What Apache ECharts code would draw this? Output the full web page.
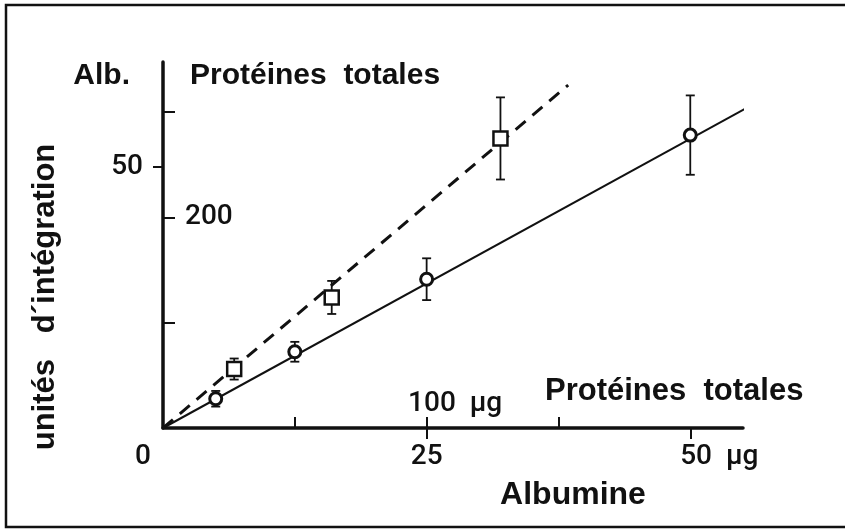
<!DOCTYPE html>
<html>
<head>
<meta charset="utf-8">
<script src="https://cdn.jsdelivr.net/npm/echarts@6/dist/echarts.min.js"></script>
<style>
  html, body { margin: 0; padding: 0; background: #fff; }
  #main { width: 845px; height: 530px; }
</style>
</head>
<body>
<div id="main"></div>
<script>
// albumine (circles, solid line) - bottom / left scales
const albX = [5, 12.5, 25, 50];
const albY = [5.6, 14.6, 28.5, 56.1];
const albErr = [1.5, 1.9, 4.0, 7.6];
const albFit = [[0, 0], [55.7, 61.7]];

// protéines totales (squares, dashed line) - inner scales
const protX = [27, 64, 128];
const protY = [56, 124, 275];
const protErr = [10, 15.7, 39];
const protFit = [[0, 0], [153.7, 325.7]];

// tick positions
const albXTicks = [25, 50];
const albYTicks = [50];
const protXTicks = [50, 100, 150];
const protYTicks = [100, 200, 300];

const FONT = "'Liberation Sans', Arial, Helvetica, sans-serif";
const NUM = { fontFamily: "Roboto, 'Liberation Sans', Arial, sans-serif", fontWeight: 500, fontSize: 28, color: '#111' };

const myChart = echarts.init(document.getElementById('main'));

const errorBars = (params, api) => {
  const x = api.value(0), y = api.value(1), e = api.value(2);
  const top = api.coord([x, y + e]);
  const bot = api.coord([x, y - e]);
  const s = { stroke: '#111', lineWidth: 1.8 };
  return {
    type: 'group',
    children: [
      { type: 'line', shape: { x1: top[0], y1: top[1], x2: bot[0], y2: bot[1] }, style: s },
      { type: 'line', shape: { x1: top[0] - 4.5, y1: top[1], x2: top[0] + 4.5, y2: top[1] }, style: s },
      { type: 'line', shape: { x1: bot[0] - 4.5, y1: bot[1], x2: bot[0] + 4.5, y2: bot[1] }, style: s },
    ],
  };
};

const gridBox = { left: 163, top: 62, width: 580, height: 366, outerBoundsMode: 'none' };

const option = {
  backgroundColor: '#fff',
  animation: false,
  grid: [gridBox, Object.assign({}, gridBox)],
  xAxis: [
    {
      type: 'value', gridIndex: 0, min: 0, max: 55, position: 'bottom',
      axisLine: { show: true, lineStyle: { color: '#111', width: 3.5 } },
      axisTick: { show: true, length: 11, customValues: albXTicks, lineStyle: { color: '#111', width: 2 } },
      axisLabel: {
        show: true, margin: 15, customValues: [0, 25, 50],
        formatter: (v) => (v === 0 ? '{z|0}' : v === 50 ? '{v|50}{u|  µg}' : '{n|' + v + '}'),
        rich: {
          z: Object.assign({ padding: [0, 40, 0, 0] }, NUM),
          n: NUM,
          v: Object.assign({ padding: [0, 0, 0, 58] }, NUM),
          u: NUM,
        },
      },
      splitLine: { show: false },
    },
    {
      type: 'value', gridIndex: 1, min: 0, max: 220, position: 'bottom',
      axisLine: { show: false },
      axisTick: { show: true, inside: true, length: 11, customValues: protXTicks, lineStyle: { color: '#111', width: 2 } },
      axisLabel: {
        show: true, inside: true, margin: 10, customValues: [100],
        formatter: (v) => '{v|' + v + '}{u|  µg}',
        rich: {
          v: Object.assign({ padding: [0, 0, 0, 57] }, NUM),
          u: NUM,
        },
      },
      splitLine: { show: false },
    },
  ],
  yAxis: [
    {
      type: 'value', gridIndex: 0, min: 0, max: 70.1, position: 'left',
      axisLine: { show: true, lineStyle: { color: '#111', width: 3.5 } },
      axisTick: { show: true, length: 10, customValues: albYTicks, lineStyle: { color: '#111', width: 2 } },
      axisLabel: { show: true, margin: 20, customValues: albYTicks, ...NUM },
      splitLine: { show: false },
    },
    {
      type: 'value', gridIndex: 1, min: 0, max: 347.6, position: 'left',
      axisLine: { show: false },
      axisTick: { show: true, inside: true, length: 12, customValues: protYTicks, lineStyle: { color: '#111', width: 2 } },
      axisLabel: { show: true, inside: true, margin: 22, customValues: [200], ...NUM },
      splitLine: { show: false },
    },
  ],
  series: [
    {
      type: 'line', xAxisIndex: 0, yAxisIndex: 0, data: albFit, clip: false,
      showSymbol: false, lineStyle: { color: '#111', width: 2 }, z: 2,
    },
    {
      type: 'line', xAxisIndex: 1, yAxisIndex: 1, data: protFit, clip: false,
      showSymbol: false, lineStyle: { color: '#111', width: 3, type: [13, 9] }, z: 2,
    },
    {
      type: 'custom', xAxisIndex: 0, yAxisIndex: 0, renderItem: errorBars, clip: false,
      data: albX.map((x, i) => [x, albY[i], albErr[i]]), z: 3,
    },
    {
      type: 'custom', xAxisIndex: 1, yAxisIndex: 1, renderItem: errorBars, clip: false,
      data: protX.map((x, i) => [x, protY[i], protErr[i]]), z: 3,
    },
    {
      type: 'scatter', xAxisIndex: 0, yAxisIndex: 0, symbol: 'circle', symbolSize: 12,
      data: albX.map((x, i) => [x, albY[i]]),
      itemStyle: { color: '#fff', borderColor: '#111', borderWidth: 3, opacity: 1 }, z: 5,
    },
    {
      type: 'scatter', xAxisIndex: 1, yAxisIndex: 1, symbol: 'rect', symbolSize: 14,
      data: protX.map((x, i) => [x, protY[i]]),
      itemStyle: { color: '#fff', borderColor: '#111', borderWidth: 2.5, opacity: 1 }, z: 5,
    },
  ],
  graphic: [
    {
      type: 'rect', shape: { x: 6, y: 5, width: 900, height: 522 },
      style: { fill: 'none', stroke: '#111', lineWidth: 2.5 }, silent: true,
    },
    {
      type: 'text', x: 130, y: 76,
      style: { text: 'Alb.', font: 'bold 30px ' + FONT, fill: '#111', align: 'right', verticalAlign: 'middle' },
    },
    {
      type: 'text', x: 190, y: 76,
      style: { text: 'Protéines  totales', font: 'bold 30px ' + FONT, fill: '#111', align: 'left', verticalAlign: 'middle' },
    },
    {
      type: 'text', x: 545, y: 391,
      style: { text: 'Protéines  totales', font: 'bold 31px ' + FONT, fill: '#111', align: 'left', verticalAlign: 'middle' },
    },
    {
      type: 'text', x: 573, y: 495,
      style: { text: 'Albumine', font: 'bold 32px ' + FONT, fill: '#111', align: 'center', verticalAlign: 'middle' },
    },
    {
      type: 'text', x: 45, y: 297, rotation: Math.PI / 2,
      style: { text: 'unités   d´intégration', font: 'bold 31px ' + FONT, fill: '#111', align: 'center', verticalAlign: 'middle' },
    },
  ],
};

myChart.setOption(option);
</script>
</body>
</html>
